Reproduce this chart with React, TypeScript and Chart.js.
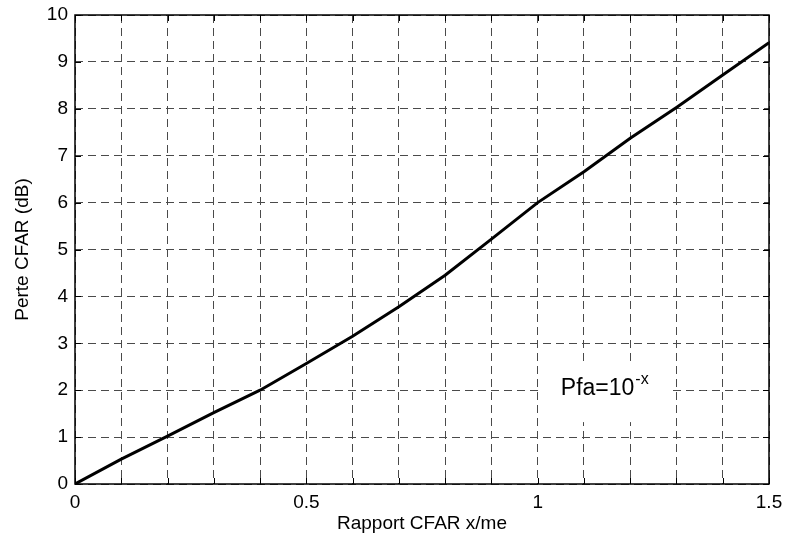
import React, { useEffect, useRef } from 'react';
import { Chart, registerables } from 'chart.js';

Chart.register(...registerables);

// ---- data ----
const xValues = [0, 0.1, 0.2, 0.3, 0.4, 0.5, 0.6, 0.7, 0.8, 0.9, 1.0, 1.1, 1.2, 1.3, 1.4, 1.5];
const yValues = [0, 0.53, 1.02, 1.52, 2.0, 2.57, 3.15, 3.78, 4.45, 5.22, 6.0, 6.66, 7.37, 8.03, 8.72, 9.41];
const xLabelTicks = [0, 0.5, 1, 1.5];
const xTitle = 'Rapport CFAR x/me';
const yTitle = 'Perte CFAR (dB)';
const noteMain = 'Pfa=10';
const noteSup = '-x';
const notePos = [1.05, 1.89];
const noteBox = [1.003, 1.29, 1.32, 2.55]; // xMin, xMax, yMin, yMax

const FONT = '"Liberation Sans", Arial, Helvetica, sans-serif';

const framePlugin = {
  id: 'matlabFrame',
  beforeDatasetsDraw(chart: any) {
    const { ctx, scales } = chart;
    const xs = scales.x;
    const ys = scales.y;
    // white text box
    const bx1 = xs.getPixelForValue(noteBox[0]);
    const bx2 = xs.getPixelForValue(noteBox[1]);
    const by1 = ys.getPixelForValue(noteBox[3]);
    const by2 = ys.getPixelForValue(noteBox[2]);
    ctx.save();
    ctx.fillStyle = '#ffffff';
    ctx.fillRect(bx1, by1, bx2 - bx1, by2 - by1);
    ctx.fillStyle = '#000000';
    ctx.textBaseline = 'alphabetic';
    ctx.textAlign = 'left';
    ctx.font = `23px ${FONT}`;
    const tx = xs.getPixelForValue(notePos[0]);
    const ty = ys.getPixelForValue(notePos[1]);
    ctx.fillText(noteMain, tx, ty);
    const w = ctx.measureText(noteMain).width;
    ctx.font = `16px ${FONT}`;
    ctx.fillText(noteSup, tx + w + 1, ty - 11);
    ctx.restore();
  },
  afterDraw(chart: any) {
    const { ctx, chartArea, scales } = chart;
    const { left, right, top, bottom } = chartArea;
    ctx.save();
    ctx.strokeStyle = '#000000';
    ctx.lineWidth = 1;
    ctx.setLineDash([]);
    ctx.beginPath();
    const tl = 6;
    scales.x.ticks.forEach((t: any) => {
      const px = Math.round(scales.x.getPixelForValue(t.value)) + 0.5;
      ctx.moveTo(px, bottom);
      ctx.lineTo(px, bottom - tl);
      ctx.moveTo(px, top);
      ctx.lineTo(px, top + tl);
    });
    scales.y.ticks.forEach((t: any) => {
      const py = Math.round(scales.y.getPixelForValue(t.value)) + 0.5;
      ctx.moveTo(left, py);
      ctx.lineTo(left + tl, py);
      ctx.moveTo(right, py);
      ctx.lineTo(right - tl, py);
    });
    ctx.stroke();
    ctx.lineWidth = 1.5;
    ctx.strokeRect(left, top, right - left, bottom - top);
    ctx.restore();
  },
};

const zeroPad = (s: any) => {
  s.paddingTop = 0;
  s.paddingBottom = 0;
  s.paddingLeft = 0;
  s.paddingRight = 0;
};

export default function App() {
  const canvasRef = useRef<HTMLCanvasElement | null>(null);

  useEffect(() => {
    document.body.style.margin = '0';
    const canvas = canvasRef.current;
    if (!canvas) return;
    const chart = new Chart(canvas, {
      type: 'line',
      data: {
        datasets: [
          {
            data: xValues.map((x, i) => ({ x, y: yValues[i] })),
            borderColor: '#000000',
            borderWidth: 3,
            pointRadius: 0,
            fill: false,
            tension: 0,
          },
        ],
      },
      options: {
        animation: false,
        responsive: false,
        devicePixelRatio: 1,
        layout: { padding: { top: 15, right: 16, left: 0, bottom: 0 } },
        plugins: {
          legend: { display: false },
          tooltip: { enabled: false },
        },
        scales: {
          x: {
            type: 'linear',
            min: 0,
            max: 1.5,
            afterFit: (s: any) => {
              s.height = 56;
              zeroPad(s);
            },
            ticks: {
              stepSize: 0.1,
              autoSkip: false,
              maxRotation: 0,
              minRotation: 0,
              padding: 7,
              color: '#000000',
              font: { family: FONT, size: 19 },
              callback: (v: any) => {
                const n = Number(v);
                return xLabelTicks.some((t) => Math.abs(t - n) < 1e-6)
                  ? String(Math.round(n * 10) / 10)
                  : '';
              },
            },
            grid: {
              color: '#4a4a4a',
              lineWidth: 1,
              drawTicks: false,
            },
            border: { display: false, dash: [8, 5] },
            title: {
              display: true,
              text: xTitle,
              color: '#000000',
              font: { family: FONT, size: 19 },
              padding: { top: 0, bottom: 5 },
            },
          },
          y: {
            type: 'linear',
            min: 0,
            max: 10,
            afterFit: (s: any) => {
              s.width = 75;
              zeroPad(s);
            },
            ticks: {
              stepSize: 1,
              autoSkip: false,
              padding: 7,
              color: '#000000',
              font: { family: FONT, size: 19 },
            },
            grid: {
              color: '#4a4a4a',
              lineWidth: 1,
              drawTicks: false,
            },
            border: { display: false, dash: [8, 5] },
            title: {
              display: true,
              text: yTitle,
              color: '#000000',
              font: { family: FONT, size: 19 },
              padding: { top: 11, bottom: 0 },
            },
          },
        },
      },
      plugins: [framePlugin],
    } as any);
    return () => chart.destroy();
  }, []);

  return (
    <div style={{ position: 'fixed', left: 0, top: 0, width: 785, height: 540, background: '#ffffff' }}>
      <canvas ref={canvasRef} width={785} height={540} />
    </div>
  );
}
